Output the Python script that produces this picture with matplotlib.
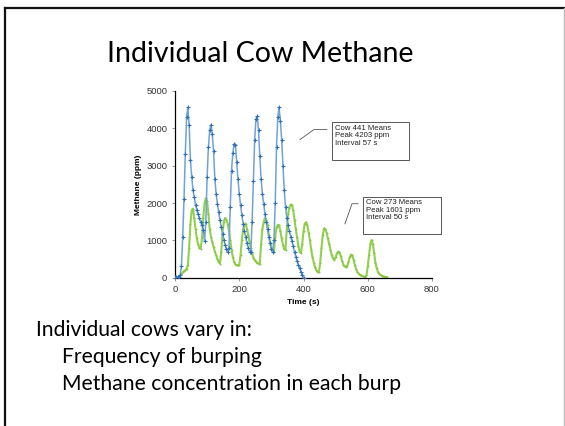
import numpy as np
import matplotlib
matplotlib.use("Agg")
import matplotlib.pyplot as plt
from matplotlib.lines import Line2D
from matplotlib.patches import Rectangle

t_441 = np.arange(0, 404, 4)
cow_441 = [20, 20, 10, 30, 60, 300, 1100, 2100, 3300, 4300,
           4560, 4100, 3150, 2700, 2350, 2150, 1950, 1800, 1700, 1600,
           1500, 1400, 1280, 980, 1500, 2700, 3500, 3950, 4100, 3850,
           3400, 2650, 2250, 1980, 1750, 1540, 1350, 1180, 1020, 880,
           760, 690, 800, 1900, 2870, 3350, 3580, 3550, 3100, 2650,
           2250, 1950, 1680, 1450, 1250, 1080, 930, 800, 700, 680,
           1500, 2600, 3700, 4250, 4330, 3950, 3250, 2650, 2250, 1980,
           1700, 1480, 1300, 1100, 920, 780, 700, 1000, 2000, 3500,
           4300, 4560, 4200, 3700, 3000, 2350, 1900, 1600, 1400, 1250,
           1100, 980, 850, 680, 560, 450, 350, 250, 150, 70,
           0]

t_273 = np.arange(0, 664, 4)
cow_273 = [0, 0, 10, 30, 60, 100, 140, 180, 200, 230,
           350, 800, 1450, 1800, 1850, 1600, 1300, 1050, 900, 800,
           780, 1050, 1600, 2000, 2130, 2050, 1700, 1300, 1100, 950,
           820, 700, 600, 500, 420, 380, 700, 1200, 1500, 1600,
           1550, 1450, 1250, 1000, 750, 550, 420, 360, 330, 330,
           340, 600, 1000, 1300, 1430, 1450, 1300, 1150, 950, 800,
           650, 540, 470, 430, 400, 380, 380, 900, 1300, 1500,
           1600, 1550, 1400, 1150, 950, 800, 720, 700, 1100, 1350,
           1420, 1400, 1250, 1050, 880, 760, 750, 1300, 1700, 1880,
           1960, 1950, 1800, 1550, 1300, 1080, 850, 700, 660, 900,
           1250, 1450, 1480, 1400, 1200, 1000, 750, 550, 400, 280,
           200, 150, 150, 400, 800, 1150, 1320, 1300, 1200, 1050,
           900, 750, 600, 520, 480, 550, 650, 700, 680, 580,
           450, 350, 300, 280, 320, 420, 550, 620, 600, 480,
           330, 220, 150, 110, 80, 60, 40, 30, 20, 60,
           300, 600, 900, 1010, 900, 650, 400, 250, 150, 100,
           70, 50, 40, 30, 20, 10]

x_ticks = [0, 200, 400, 600, 800]
y_ticks = [0, 1000, 2000, 3000, 4000, 5000]

note_441 = "Cow 441 Means\nPeak 4203 ppm\nInterval 57 s"
note_273 = "Cow 273 Means\nPeak 1601 ppm\nInterval 50 s"

SLIDE_FONT = ["Lato", "DejaVu Sans"]
CHART_FONT = ["Liberation Sans", "DejaVu Sans"]

W, H = 565, 426
fig = plt.figure(figsize=(W / 100, H / 100), dpi=100)
fig.patch.set_facecolor("white")


def fx(px):
    return px / W


def fy(py):
    return 1 - py / H


# slide frame: dark top/left edge, light right edge
fig.add_artist(Line2D([fx(5), fx(564)], [fy(8), fy(8)], color="#111111", lw=1.6))
fig.add_artist(Line2D([fx(5), fx(5)], [fy(8), fy(426)], color="#111111", lw=1.6))
fig.add_artist(Line2D([fx(564), fx(564)], [fy(8), fy(426)], color="#bbbbbb", lw=1.0))

# slide title and bullets
fig.text(fx(260), fy(62), "Individual Cow Methane", family=SLIDE_FONT,
         fontsize=20.5, ha="center", va="baseline", color="black")
fig.text(fx(36), fy(336), "Individual cows vary in:", family=SLIDE_FONT,
         fontsize=15.2, ha="left", va="baseline")
fig.text(fx(62), fy(363), "Frequency of burping", family=SLIDE_FONT,
         fontsize=15.2, ha="left", va="baseline")
fig.text(fx(62), fy(390), "Methane concentration in each burp", family=SLIDE_FONT,
         fontsize=15.2, ha="left", va="baseline")

# chart
ax = fig.add_axes([fx(175), fy(277.7), fx(432) - fx(175), fy(91) - fy(277.7)])
ax.plot(t_273, cow_273, color="#92d050", lw=1.5, zorder=2)
ax.plot(t_273, cow_273, ls="none", marker="+", ms=2.0, mec="#8cc63f", mew=0.7, zorder=2)
ax.plot(t_441, cow_441, color="#6fa3d8", lw=1.1, zorder=3)
ax.plot(t_441, cow_441, ls="none", marker="+", ms=2.2, mec="#2e6fb5", mew=0.8, zorder=3)

ax.set_xlim(0, 800)
ax.set_ylim(0, 5000)
ax.set_xticks(x_ticks)
ax.set_yticks(y_ticks)
for s in ["top", "right"]:
    ax.spines[s].set_visible(False)
for s in ["left", "bottom"]:
    ax.spines[s].set_color("black")
    ax.spines[s].set_linewidth(0.9)
ax.tick_params(axis="both", length=2.5, width=0.6, color="#888888",
               labelsize=6.8, labelcolor="#333333", pad=3)
for lab in ax.get_xticklabels() + ax.get_yticklabels():
    lab.set_family(CHART_FONT)
ax.set_xlabel("Time (s)", family=CHART_FONT, fontsize=6, fontweight="bold", labelpad=3)
ax.set_ylabel("Methane (ppm)", family=CHART_FONT, fontsize=6, fontweight="bold", labelpad=3)

# callout boxes with leader lines (data coords, outside clip)
ax.add_patch(Rectangle((489, 3163), 239, 995, fill=False, ec="#555555", lw=0.7,
                       clip_on=False, zorder=5))
ax.text(497, 4100, note_441, family=CHART_FONT, fontsize=5.6, va="top", ha="left",
        color="#222222", linespacing=1.15, zorder=6)
ax.add_line(Line2D([389, 433, 473], [3700, 3970, 3970], color="#555555", lw=0.6,
                   clip_on=False))

ax.add_patch(Rectangle((585, 1175), 243, 994, fill=False, ec="#555555", lw=0.7,
                       clip_on=False, zorder=5))
ax.text(593, 2110, note_273, family=CHART_FONT, fontsize=5.6, va="top", ha="left",
        color="#222222", linespacing=1.15, zorder=6)
ax.add_line(Line2D([529, 551, 570], [1443, 1981, 1981], color="#555555", lw=0.6,
                   clip_on=False))

fig.savefig("out.png", dpi=100)
